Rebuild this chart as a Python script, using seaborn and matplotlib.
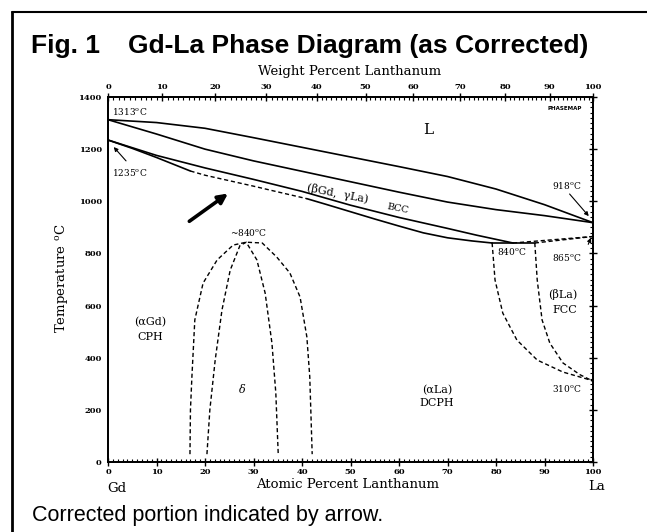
import numpy as np
import pandas as pd
import matplotlib
matplotlib.use("Agg")
import matplotlib.pyplot as plt
import seaborn as sns
from matplotlib.lines import Line2D
from matplotlib.ticker import MultipleLocator, FixedLocator

sns.set_theme(style="white")
plt.rcParams['font.family'] = ['DejaVu Serif', 'DejaVu Sans']
plt.rcParams['mathtext.fontset'] = 'dejavuserif'
plt.rcParams['text.color'] = 'black'
plt.rcParams['axes.labelcolor'] = 'black'
plt.rcParams['xtick.color'] = 'black'
plt.rcParams['ytick.color'] = 'black'
plt.rcParams['axes.edgecolor'] = 'black'

# ---------------- data (atomic % La, temperature degC) ----------------
liq_x = [0, 10, 20, 30, 40, 50, 60, 70, 80, 90, 100]
liq_T = [1313, 1302, 1280, 1244, 1207, 1170, 1133, 1095, 1047, 987, 918]

sol_x = [0, 10, 20, 30, 40, 50, 60, 70, 80, 90, 100]
sol_T = [1313, 1258, 1200, 1155, 1115, 1075, 1035, 997, 968, 945, 918]

bcc_x = [0, 10, 20, 30, 40, 50, 60, 70, 76, 83.5]
bcc_T = [1235, 1176, 1128, 1084, 1038, 985, 938, 896, 870, 840]

low_x = [0, 5, 10, 17, 20, 25, 30, 35, 41, 45, 50, 55, 60, 65, 70, 75, 79.2]
low_T = [1235, 1203, 1168, 1116, 1100, 1079, 1058, 1036, 1010, 988, 960, 932, 905, 879, 860, 848, 840]
low_dash_start, low_dash_end = 3, 8   # dashed (corrected) portion indices

eut_x = [79.2, 88.0]
eut_T = [840, 840]

fcc1_x = [83.5, 100]
fcc1_T = [840, 865]
fcc2_x = [88.0, 100]
fcc2_T = [840, 865]

vl_x = [79.2, 79.8, 81.4, 84.3, 88.5, 93.8, 98.8, 100]
vl_T = [840, 698, 571, 468, 391, 345, 318, 310]
vr_x = [88.0, 88.5, 89.5, 91.1, 93.8, 97.3, 100]
vr_T = [840, 698, 545, 456, 380, 335, 310]

dome_out_x = [16.9, 17.0, 17.3, 17.9, 19.6, 22.5, 25.8, 28.5, 31.8, 34.8, 37.5, 39.6, 41.0, 41.6, 42.1]
dome_out_T = [30, 200, 327, 545, 686, 775, 832, 843, 840, 786, 725, 633, 480, 327, 30]
dome_in_x = [20.4, 21.0, 22.1, 23.5, 25.2, 27.2, 28.5, 30.7, 32.4, 33.8, 34.6, 35.1]
dome_in_T = [30, 200, 391, 583, 736, 830, 843, 775, 648, 456, 265, 30]

wt_ticks = [0, 10, 20, 30, 40, 50, 60, 70, 80, 90, 100]
at_ticks = [0, 10, 20, 30, 40, 50, 60, 70, 80, 90, 100]
T_ticks = [0, 200, 400, 600, 800, 1000, 1200, 1400]

M_LA, M_GD = 138.905, 157.25


def wt_to_at(w):
    w = np.asarray(w, dtype=float)
    a = (w / M_LA) / (w / M_LA + (100 - w) / M_GD)
    return 100 * a


W, H = 647, 532
fig = plt.figure(figsize=(W / 100, H / 100), dpi=100)
fig.patch.set_facecolor('white')


def fx(x):
    return x / W


def fy(y):
    return 1 - y / H


ax = fig.add_axes([fx(108), fy(462), fx(593) - fx(108), fy(97) - fy(462)])
ax.set_facecolor('white')
ax.set_xlim(0, 100)
ax.set_ylim(0, 1400)

solid = dict(color='black', lw=1.2, sort=False, estimator=None, ax=ax, legend=False)
dash = dict(color='black', lw=1.0, sort=False, estimator=None, ax=ax, legend=False,
            linestyle=(0, (3, 2)))


def draw(xs, ys, style):
    df = pd.DataFrame({'x': xs, 'T': ys})
    sns.lineplot(data=df, x='x', y='T', **style)


draw(liq_x, liq_T, solid)
draw(sol_x, sol_T, solid)
draw(bcc_x, bcc_T, solid)
draw(low_x[:low_dash_start + 1], low_T[:low_dash_start + 1], solid)
draw(low_x[low_dash_start:low_dash_end + 1], low_T[low_dash_start:low_dash_end + 1], dash)
draw(low_x[low_dash_end:], low_T[low_dash_end:], solid)
draw(eut_x, eut_T, solid)
draw(fcc1_x, fcc1_T, dash)
draw(fcc2_x, fcc2_T, dash)
draw(vl_x, vl_T, dash)
draw(vr_x, vr_T, dash)
draw(dome_out_x, dome_out_T, dash)
draw(dome_in_x, dome_in_T, dash)

ax.set_xlabel('')
ax.set_ylabel('')

# ---- axes styling ----
for s in ax.spines.values():
    s.set_visible(True)
    s.set_color('black')
    s.set_linewidth(1.3)

ax.xaxis.set_major_locator(FixedLocator(at_ticks))
ax.xaxis.set_minor_locator(MultipleLocator(1))
ax.yaxis.set_major_locator(FixedLocator(T_ticks))
ax.yaxis.set_minor_locator(MultipleLocator(20))
ax.set_xticklabels([str(t) for t in at_ticks])
ax.set_yticklabels([str(t) for t in T_ticks])
ax.tick_params(axis='both', which='major', direction='inout', length=6, width=1.0,
               colors='black', labelsize=6, pad=1.5)
ax.tick_params(axis='both', which='minor', direction='in', length=2.5, width=0.8, colors='black')
ax.tick_params(axis='y', which='both', right=True, labelright=False)
for lab in ax.get_xticklabels() + ax.get_yticklabels():
    lab.set_fontweight('bold')
    lab.set_color('black')

# top axis: weight percent
ax2 = ax.twiny()
ax2.set_xlim(0, 100)
ax2.xaxis.set_major_locator(FixedLocator(list(wt_to_at(wt_ticks))))
ax2.xaxis.set_minor_locator(FixedLocator(list(wt_to_at(np.arange(0, 101, 1)))))
ax2.set_xticklabels([str(t) for t in wt_ticks])
ax2.tick_params(axis='x', which='major', direction='inout', length=6, width=1.0,
                colors='black', labelsize=6, pad=1.5)
ax2.tick_params(axis='x', which='minor', direction='in', length=2.5, width=0.8, colors='black')
for lab in ax2.get_xticklabels():
    lab.set_fontweight('bold')
    lab.set_color('black')
for s in ax2.spines.values():
    s.set_linewidth(1.3)
    s.set_color('black')
ax2.grid(False)
ax.grid(False)

# ---- labels in the diagram ----
deg = r'$^{\mathrm{o}}$C'
small = 6.5
lab = 8
ax.text(4.5, 1343, '1313' + deg, fontsize=small, ha='center', va='center')
ax.text(4.5, 1112, '1235' + deg, fontsize=small, ha='center', va='center')
ax.annotate('', xy=(0.8, 1216), xytext=(4.1, 1147),
            arrowprops=dict(arrowstyle='-|>', lw=0.8, color='black', mutation_scale=6))
ax.text(66, 1273, 'L', fontsize=11, ha='center', va='center')
ax.text(47.4, 1030, '(βGd,  γLa)', fontsize=lab, ha='center', va='center', rotation=-11)
ax.text(59.8, 971, 'BCC', fontsize=7, ha='center', va='center', rotation=-11)
ax.annotate('', xy=(25.2, 1036), xytext=(16.3, 917),
            arrowprops=dict(arrowstyle='-|>', lw=2.6, color='black', mutation_scale=14))
ax.text(28.9, 882, '~840' + deg, fontsize=small, ha='center', va='center')
ax.text(8.7, 537, '(αGd)', fontsize=lab, ha='center', va='center')
ax.text(8.7, 479, 'CPH', fontsize=lab, ha='center', va='center')
ax.text(27.8, 276, 'δ', fontsize=lab, ha='center', va='center', style='italic')
ax.text(67.8, 276, '(αLa)', fontsize=lab, ha='center', va='center')
ax.text(67.8, 226, 'DCPH', fontsize=lab, ha='center', va='center')
ax.text(83.3, 809, '840' + deg, fontsize=small, ha='center', va='center')
ax.text(94.6, 783, '865' + deg, fontsize=small, ha='center', va='center')
ax.annotate('', xy=(99.8, 870), xytext=(98.8, 825),
            arrowprops=dict(arrowstyle='-|>', lw=0.8, color='black', mutation_scale=6))
ax.text(94.6, 1059, '918' + deg, fontsize=small, ha='center', va='center')
ax.annotate('', xy=(99.5, 935), xytext=(94.8, 1036),
            arrowprops=dict(arrowstyle='-|>', lw=0.8, color='black', mutation_scale=6))
ax.text(93.8, 641, '(βLa)', fontsize=lab, ha='center', va='center')
ax.text(94.2, 583, 'FCC', fontsize=lab, ha='center', va='center')
ax.text(94.6, 280, '310' + deg, fontsize=small, ha='center', va='center')
ax.text(94.2, 1354, 'PHASEMAP', fontsize=4, ha='center', va='center', fontweight='bold',
        family='DejaVu Sans')

# ---- figure texts ----
fig.text(fx(350), fy(72), 'Weight Percent Lanthanum', fontsize=9.5, ha='center', va='center')
fig.text(fx(348), fy(485), 'Atomic Percent Lanthanum', fontsize=9.5, ha='center', va='center')
fig.text(fx(62), fy(278), 'Temperature ' + deg, fontsize=9.5, ha='center', va='center', rotation=90)
fig.text(fx(117), fy(488), 'Gd', fontsize=9.5, ha='center', va='center')
fig.text(fx(597), fy(487), 'La', fontsize=9.5, ha='center', va='center')

fig.text(fx(31), fy(53), 'Fig. 1', fontsize=19, fontweight='bold', family='Liberation Sans',
         ha='left', va='baseline', color='black')
fig.text(fx(128), fy(53), 'Gd-La Phase Diagram (as Corrected)', fontsize=19, fontweight='bold',
         family='Liberation Sans', ha='left', va='baseline', color='black')
fig.text(fx(32), fy(521), 'Corrected portion indicated by arrow.', fontsize=15.5,
         family='Liberation Sans', ha='left', va='baseline', color='black')

# frame lines
fig.add_artist(Line2D([fx(12), 1.0], [fy(12), fy(12)], transform=fig.transFigure,
                      color='black', lw=1.5))
fig.add_artist(Line2D([fx(12), fx(12)], [0.0, fy(12)], transform=fig.transFigure,
                      color='black', lw=2.0))

fig.savefig('out.png', dpi=100, facecolor='white')
